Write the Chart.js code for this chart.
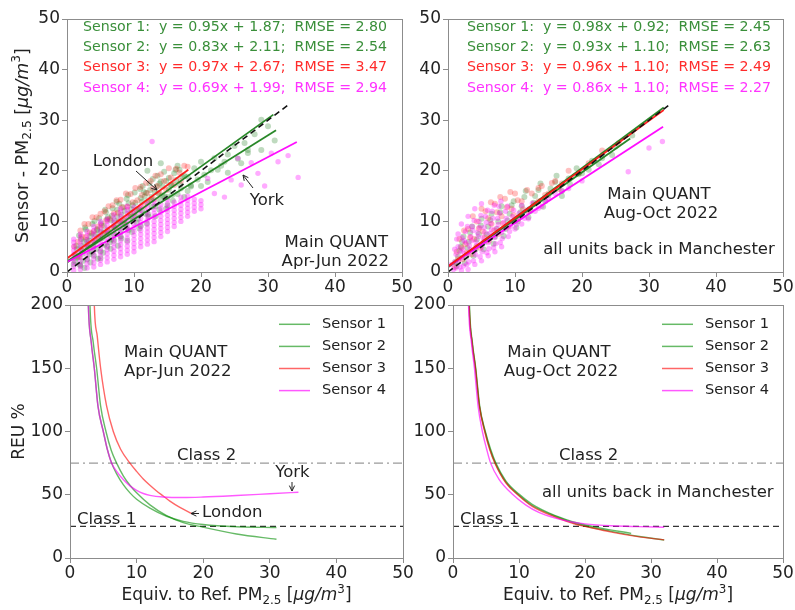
<!DOCTYPE html>
<html><head><meta charset="utf-8">
<script src="https://cdn.jsdelivr.net/npm/chart.js@4.4.1/dist/chart.umd.min.js"></script>
<style>
html,body{margin:0;padding:0;background:#fff;width:795px;height:610px;overflow:hidden}
canvas{position:absolute}
</style></head><body>
<canvas id="tl" width="420" height="300" style="left:0px;top:0px"></canvas>
<canvas id="tr" width="395" height="300" style="left:400px;top:0px"></canvas>
<canvas id="bl" width="420" height="320" style="left:0px;top:290px"></canvas>
<canvas id="br" width="395" height="320" style="left:400px;top:290px"></canvas>
<script>
// ---------------- DATA ----------------
const xTicks = [0, 10, 20, 30, 40, 50];
const yTicksTop = [0, 10, 20, 30, 40, 50];
const yTicksBottom = [0, 50, 100, 150, 200];
const sensorNames = ['Sensor 1', 'Sensor 2', 'Sensor 3', 'Sensor 4'];
const periodAprJun = ['Main QUANT', 'Apr-Jun 2022'];
const periodAugOct = ['Main QUANT', 'Aug-Oct 2022'];
const noteAugOct = 'all units back in Manchester';
const classLabels = ['Class 1', 'Class 2'];
const classLevels = [25, 75];

const eqAprJun = [
  'Sensor 1:  y = 0.95x + 1.87;  RMSE = 2.80',
  'Sensor 2:  y = 0.83x + 2.11;  RMSE = 2.54',
  'Sensor 3:  y = 0.97x + 2.67;  RMSE = 3.47',
  'Sensor 4:  y = 0.69x + 1.99;  RMSE = 2.94'
];
const eqAugOct = [
  'Sensor 1:  y = 0.98x + 0.92;  RMSE = 2.45',
  'Sensor 2:  y = 0.93x + 1.10;  RMSE = 2.63',
  'Sensor 3:  y = 0.96x + 1.10;  RMSE = 2.49',
  'Sensor 4:  y = 0.86x + 1.10;  RMSE = 2.27'
];

// regression line end points: [x0, y0, x1, y1]
const fitAprJun = [[0, 1.87, 30.8, 31.1], [0, 2.11, 31.2, 28.0], [0, 2.67, 18.1, 20.2], [0, 1.99, 34.3, 25.7]];
const fitAugOct = [[0, 0.92, 32.2, 32.5], [0, 1.10, 27.2, 26.4], [0, 1.10, 32.2, 32.0], [0, 1.10, 32.1, 28.7]];
const oneToOne = [0, 0, 33, 33];

// scatter clouds (x, y pairs)
const tlS1 = [1.2,2.1, 1.5,4.5, 1.8,7.2, 2.0,1.2, 2.3,3.6, 2.5,6.0, 2.8,8.4, 3.0,2.5, 3.2,4.8, 3.5,7.1, 3.8,9.5, 4.0,3.2, 4.2,5.9, 4.5,8.3, 4.8,10.6, 5.0,4.1, 5.3,6.7, 5.5,9.1, 5.8,11.8, 6.0,5.0, 6.3,7.5, 6.5,10.2, 6.8,12.6, 7.0,6.2, 7.3,8.7, 7.5,11.0, 7.8,13.5, 8.0,7.0, 8.3,9.6, 8.6,12.1, 8.9,14.5, 9.2,8.3, 9.5,10.9, 9.8,13.2, 10.1,15.7, 10.4,9.8, 10.7,12.4, 11.0,14.6, 11.3,17.0, 11.7,11.5, 12.0,13.8, 12.4,16.2, 12.8,18.4, 13.2,13.0, 13.6,15.5, 14.0,17.9, 14.5,19.8, 15.0,14.8, 15.5,17.2, 16.0,19.5, 16.5,21.0, 17.0,16.5, 18.0,18.8, 19.0,20.5, 20.5,19.2, 22.0,22.5, 23.5,21.8, 25.0,24.9, 26.5,25.5, 28.0,27.2, 30.0,28.8,
  1.5,2.8, 2.2,5.1, 2.6,0.8, 3.3,6.2, 3.7,3.9, 4.3,7.4, 4.6,2.6, 5.1,8.0, 5.6,5.4, 6.1,10.8, 6.6,6.4, 7.1,10.1, 7.6,5.2, 8.1,11.3, 8.7,9.4, 9.0,6.2, 9.6,12.4, 10.2,11.2, 10.8,8.6, 11.2,13.9, 11.8,15.6, 12.2,10.9, 12.6,14.8, 13.4,16.9, 13.8,12.3, 14.2,15.1, 14.8,18.0, 15.2,16.3, 15.8,14.1, 16.3,18.2, 16.8,20.2, 17.5,19.0, 18.5,16.9, 20,21.8, 21.5,20.1, 24,23.2, 27,24.1, 29,30.1, 14.0,21.5, 12.0,20.0];
const tlS2 = [1.0,1.5, 1.4,5.2, 1.7,3.0, 2.1,6.5, 2.4,2.2, 2.7,8.8, 3.1,5.3, 3.4,3.5, 3.7,7.6, 4.1,10.1, 4.4,4.6, 4.7,6.9, 5.1,9.6, 5.4,3.8, 5.7,12.3, 6.1,8.2, 6.4,5.9, 6.7,11.1, 7.1,7.4, 7.4,13.9, 7.7,9.9, 8.1,6.6, 8.4,12.8, 8.8,8.9, 9.1,15.2, 9.4,11.6, 9.7,7.9, 10.2,13.7, 10.6,10.5, 10.9,16.4, 11.2,12.1, 11.6,14.9, 11.9,9.6, 12.3,17.5, 12.7,12.9, 13.1,15.8, 13.5,19.0, 13.9,14.2, 14.3,16.9, 14.8,12.5, 15.2,18.6, 15.7,15.2, 16.2,20.2, 16.8,17.4, 17.5,14.8, 18.5,17.1, 19.5,18.3, 21.0,17.8, 22.5,20.2, 24.0,19.6, 25.5,22.4, 27.0,23.5, 29.0,24.1, 31.0,26.0,
  1.2,3.4, 1.9,1.5, 2.3,4.1, 2.9,6.3, 3.5,1.9, 3.9,5.0, 4.5,8.5, 5.0,2.7, 5.5,7.8, 6.0,10.4, 6.5,4.6, 7.0,9.0, 7.5,12.3, 8.0,8.2, 8.6,10.3, 9.2,13.6, 9.8,10.2, 10.4,12.3, 11.0,9.1, 11.5,15.8, 12.1,11.4, 12.6,14.2, 13.2,11.0, 13.8,17.5, 14.5,15.0, 15.0,13.2, 15.6,17.3, 16.5,15.4, 17.2,18.8, 18.0,16.0, 20.0,17.0, 23.0,21.0, 26.0,21.5];
const tlS3 = [1.3,3.5, 1.6,6.0, 2.0,8.2, 2.4,4.2, 2.8,6.9, 3.2,9.5, 3.6,5.4, 4.0,8.0, 4.4,10.8, 4.8,6.5, 5.2,9.2, 5.6,12.0, 6.0,7.8, 6.4,10.5, 6.8,13.2, 7.2,9.0, 7.6,11.7, 8.0,14.3, 8.5,10.2, 9.0,12.9, 9.5,15.4, 10.0,11.6, 10.5,14.2, 11.0,16.8, 11.5,13.0, 12.0,15.6, 12.5,18.0, 13.0,14.4, 13.5,17.0, 14.0,19.3, 14.8,16.2, 15.5,18.7, 16.3,20.4, 17.0,18.0, 18.0,20.8,
  1.1,5.0, 1.8,3.0, 2.2,7.0, 2.6,9.5, 3.0,5.0, 3.4,7.8, 3.8,10.8, 4.2,6.2, 4.6,9.0, 5.0,11.5, 5.4,7.5, 5.8,10.2, 6.2,13.0, 6.6,8.6, 7.0,11.6, 7.4,14.2, 7.8,10.0, 8.2,12.8, 8.8,15.5, 9.2,11.0, 9.8,13.8, 10.2,16.6, 10.8,12.5, 11.2,15.2, 11.8,17.6, 12.2,14.0, 12.8,16.5, 13.2,19.0, 13.8,15.6, 14.5,18.0, 15.2,20.5, 16.0,17.2, 16.8,19.6, 17.5,21.0];
// sensor 4 (Apr-Jun): vertical stripes, each row = [x, y values...]
const tlS4Stripes = [
  [1, 0.3,1.1,1.9,2.7,3.5,4.3,5.1,5.9,6.5],
  [2, 0.5,1.3,2.1,2.9,3.7,4.5,5.3,6.1,6.9,7.5],
  [3, 0.8,1.6,2.4,3.2,4.0,4.8,5.6,6.4,7.2,8.0],
  [4, 1.0,1.8,2.6,3.4,4.2,5.0,5.8,6.6,7.4,8.2,9.0],
  [5, 1.5,2.3,3.1,3.9,4.7,5.5,6.3,7.1,7.9,8.7,9.5,10.0],
  [6, 2.0,2.8,3.6,4.4,5.2,6.0,6.8,7.6,8.4,9.2,10.0,10.5],
  [7, 2.5,3.3,4.1,4.9,5.7,6.5,7.3,8.1,8.9,9.7,10.5,11.3],
  [8, 3.0,3.8,4.6,5.4,6.2,7.0,7.8,8.6,9.4,10.2,11.0,11.8,12.5],
  [9, 3.5,4.3,5.1,5.9,6.7,7.5,8.3,9.1,9.9,10.7,11.5,12.3,13.0],
  [10, 4.0,4.8,5.6,6.4,7.2,8.0,8.8,9.6,10.4,11.2,12.0,12.8],
  [11, 5.0,5.8,6.6,7.4,8.2,9.0,9.8,10.6,11.4,12.2,13.0],
  [12, 5.5,6.3,7.1,7.9,8.7,9.5,10.3,11.1,11.9,12.7,13.5],
  [13, 6.0,6.8,7.6,8.4,9.2,10.0,10.8,11.6,12.4,13.2,14.0],
  [14, 7.0,7.8,8.6,9.4,10.2,11.0,11.8,12.6,13.4],
  [15, 8.0,8.8,9.6,10.4,11.2,12.0,12.8,13.6,14.4],
  [16, 9.0,9.8,10.6,11.4,12.2,13.0,13.8],
  [17, 10.0,10.8,11.6,12.4,13.2,14.0,14.8],
  [18, 11.0,11.8,12.6,13.4,14.2,15.0],
  [19, 12.0,12.8,13.6,14.4],
  [20, 12.5,13.3,14.1]
];
const tlS4Sparse = [22,15.5, 23.5,14.8, 24.5,18.2, 26,17.2, 27.5,21.6, 28.5,19.5, 30.5,23.5, 31.5,21.8, 33,23, 34.5,18.7, 12.7,25.8, 21,18.5, 25.5,22.5, 29.5,17];

const trS1 = [1.1,2, 1.5,3, 1.9,5, 2.3,7, 2.7,3, 3.1,6, 3.6,9, 4.1,4.5, 4.6,7.5, 5,10.5, 5.5,6, 6,9, 6.5,11.5, 7,7, 7.5,10, 8,13, 8.6,8.5, 9.2,11.5, 9.8,14, 10.4,10, 11,13, 11.6,16, 12.3,12, 13,15, 13.8,17.5, 14.5,14, 15.3,16.5, 16.2,19, 17,16, 18,18.5, 19.2,20.5, 20,19.5, 21.5,22, 23,22.5, 25,24.8, 27.5,27];
const trS2 = [1.3,1.2, 1.7,4.2, 2.1,6, 2.5,1.8, 2.9,4.8, 3.3,7.8, 3.8,3.2, 4.3,6.4, 4.9,9.2, 5.3,4.5, 5.8,7.4, 6.3,10.3, 6.8,5.6, 7.3,8.5, 7.8,11.8, 8.3,7.1, 8.9,10.2, 9.5,13.2, 10.2,8.8, 10.8,11.8, 11.4,14.8, 12,10.8, 12.8,13.7, 13.5,16.2, 14.2,12.9, 15,15.2, 16,17.8, 17,15, 18.2,17.4, 19.5,19.3, 21,20.2, 22.5,21.3, 24.5,23.1];
const trS3 = [1,1, 1.3,4, 1.7,6.5, 2.2,2.5, 2.6,5.5, 3,8.5, 3.5,3.5, 3.9,6.5, 4.3,10, 4.8,4.8, 5.2,8, 5.6,12, 6.1,6.2, 6.5,9.5, 7,13.5, 7.5,7.5, 8,11, 8.5,14.5, 9,9, 9.5,12.5, 10,15.5, 10.5,10.5, 11,14, 12,12, 12.5,15.5, 13.5,14, 14,17, 15,15.5, 16,18, 17,17.5, 18,20, 19.5,19.5, 21,21.5, 23,24, 25.5,25.5,
  1.5,2.5, 2.0,4.8, 2.4,8.2, 2.8,3.8, 3.3,6.8, 3.7,11.0, 4.2,5.0, 4.6,8.6, 5.0,12.5, 5.5,6.8, 6.0,10.6, 6.4,13.8, 6.9,8.2, 7.3,11.8, 7.8,14.8, 8.2,9.6, 8.8,12.8, 9.3,15.8, 9.8,11.2, 10.4,14.2, 11.2,12.4, 11.8,16.2, 12.8,13.4, 13.5,16.6, 14.5,15.2, 15.5,17.6, 16.5,16.4];
const trS4 = [0.8,0.5, 1,2, 1.2,3.5, 1.5,5, 1.8,1, 2,2.8, 2.2,4.5, 2.4,6.2, 2.6,8, 2.8,1.5, 3,3.5, 3.2,5.2, 3.4,7, 3.6,9, 3.8,2.2, 4,4.2, 4.2,6, 4.4,7.8, 4.6,10, 4.8,3, 5,5, 5.2,6.8, 5.4,8.8, 5.6,11, 5.8,3.8, 6,5.8, 6.2,7.6, 6.4,9.6, 6.6,12, 6.8,4.8, 7,6.8, 7.2,8.6, 7.4,10.6, 7.6,13, 7.8,5.8, 8,7.8, 8.3,9.8, 8.6,12, 9,7, 9.3,9, 9.6,11, 10,8.5, 10.5,10.5, 11,9.5, 11.5,12, 12,10.5, 13,12, 14,13, 15,14.5, 16,15.5, 17,16, 18,16.5, 20,18, 26.9,19.8, 30,24.5, 32,25.8, 1.5,7.5, 0.5,1.5, 2,9.5, 3,11, 4,12.5, 5,13.5,
  1.0,4.5, 1.3,6.5, 1.6,2.2, 1.9,4.0, 2.1,6.8, 2.3,1.2, 2.5,3.6, 2.7,5.8, 2.9,9.0, 3.1,2.0, 3.3,4.4, 3.5,6.2, 3.7,8.2, 3.9,10.2, 4.1,3.4, 4.3,5.2, 4.5,7.0, 4.7,8.8, 4.9,11.2, 5.1,4.0, 5.3,6.0, 5.5,7.8, 5.7,9.8, 5.9,12.2, 6.1,4.6, 6.3,6.6, 6.5,8.4, 6.7,10.6, 6.9,13.2, 7.1,5.6, 7.3,7.6, 7.5,9.4, 7.7,11.6, 7.9,14.0, 8.1,6.6, 8.4,8.6, 8.7,10.6, 8.9,13.0, 9.2,8.0, 9.5,10.0, 9.8,12.2, 10.2,9.4, 10.6,11.6, 11.0,13.2, 11.4,10.6, 12.0,12.4, 12.6,13.6, 13.5,12.6, 14.5,14.2, 4.0,1.5, 5.0,2.2, 6.0,3.2, 7.0,4.0, 8.0,5.0, 3.0,0.5, 2.0,0.3, 1.2,0.8];

// REU curves (x, REU%)
const reuAprJun = [
  [2.85,240, 3.0,200, 3.5,170, 4.0,150, 4.6,120, 5.4,100, 6.2,85, 7.0,75, 8,65, 9,57.5, 10,51.5, 12,42, 14.5,33.5, 17,28, 20,24.3, 25,19, 31,14.8],
  [2.6,240, 2.75,200, 3.2,170, 3.65,150, 4.2,120, 5.0,100, 5.6,86, 6.25,75, 7,66.5, 8,58, 9,51.5, 10,46.5, 12,39.5, 14.5,33, 17,29, 20,26.5, 25,24.7, 31,24.1],
  [3.5,240, 3.65,200, 4.1,175, 4.6,150, 5.5,120, 6.5,100, 7.6,86, 9.0,75, 10,68.5, 11,62.5, 12,57.5, 13,53, 14,49, 15,45, 16.5,40, 18.3,35],
  [2.6,240, 2.75,200, 3.2,170, 3.65,150, 4.2,120, 5.0,100, 5.6,86, 6.25,75, 7,68.5, 8,62, 9,57, 10,53.5, 11,51, 12,49.5, 14,48.2, 17,47.8, 20,48.2, 25,49.4, 30,50.8, 34.3,52]
];
const reuAugOct = [
  [2.3,240, 2.45,200, 2.9,170, 3.4,150, 4.0,120, 4.85,100, 5.6,86, 6.4,75, 8,60, 9.9,50, 12,41.5, 15.5,33, 18.7,27, 20,25.3, 24,21, 28,17.2, 32,14.2],
  [2.35,240, 2.5,200, 2.95,170, 3.45,150, 4.05,120, 4.9,100, 5.7,86, 6.5,75, 8,61, 10,50.5, 12,42.5, 15.5,33.5, 19,27.5, 22,24, 27,19.5],
  [2.3,240, 2.45,200, 2.9,170, 3.4,150, 4.0,120, 4.8,100, 5.55,86, 6.35,75, 8,59.5, 9.8,50, 12,40.8, 15.5,32.3, 18.7,26.5, 20,25, 24,20.5, 28,16.9, 32,14.3],
  [2.2,240, 2.35,200, 2.8,170, 3.25,150, 3.8,120, 4.45,100, 5.1,86, 5.7,75, 7,62, 9.1,50, 11,42, 13,36, 15.5,31.5, 18,28.5, 20,27, 24,25.5, 28,24.8, 32,24.3]
];

// ---------------- STYLE ----------------
const FONT = '"DejaVu Sans", sans-serif';
const TXT = '#222';
const AXIS = '#8c8c8c';
const lineCol = ['rgba(30,130,30,0.95)', 'rgba(30,130,30,0.95)', 'rgba(255,20,20,0.95)', 'rgba(255,0,255,0.95)'];
const lineOrder = [2, 3, 0, 1];
const curveCol = ['rgba(0,140,0,0.6)', 'rgba(0,140,0,0.6)', 'rgba(255,0,0,0.6)', 'rgba(255,0,255,0.65)'];
const dotCol = ['rgba(20,120,20,0.27)', 'rgba(20,120,20,0.27)', 'rgba(255,30,30,0.28)', 'rgba(255,0,255,0.33)'];
const dotR = [3, 3, 3, 2.7];
const eqCol = ['#3a8f3a', '#3a8f3a', '#ff2b2b', '#ff33ff'];

const pairs = a => { const o = []; for (let i = 0; i < a.length; i += 2) o.push({x: a[i], y: a[i + 1]}); return o; };
const stripes = rows => { const o = []; rows.forEach(r => r.slice(1).forEach(y => o.push({x: r[0], y}))); return o; };
const seg = s => [{x: s[0], y: s[1]}, {x: s[2], y: s[3]}];

const pmSegs = [{t: 'PM'}, {t: '2.5', sub: 1}, {t: ' ['}, {t: 'μg/m', it: 1}, {t: '3', sup: 1}, {t: ']'}];
const yTitleTop = [{t: 'Sensor - '}].concat(pmSegs);
const xTitle = [{t: 'Equiv. to Ref. '}].concat(pmSegs);

function drawRich(ctx, segs, x, y, size, align, color) {
  let total = 0;
  const parts = segs.map(s => {
    const fs = (s.sub || s.sup) ? size * 0.7 : size;
    const font = (s.it ? 'italic ' : '') + fs + 'px ' + FONT;
    ctx.font = font;
    const w = ctx.measureText(s.t).width;
    total += w;
    return {s, font, w, dy: s.sub ? size * 0.3 : s.sup ? -size * 0.38 : 0};
  });
  let cx = align === 'center' ? x - total / 2 : align === 'right' ? x - total : x;
  ctx.textBaseline = 'middle';
  ctx.textAlign = 'left';
  ctx.fillStyle = color || TXT;
  parts.forEach(p => { ctx.font = p.font; ctx.fillText(p.s.t, cx, y + p.dy); cx += p.w; });
}

function arrow(ctx, x1, y1, x2, y2) {
  const a = Math.atan2(y2 - y1, x2 - x1), h = 6;
  ctx.strokeStyle = TXT; ctx.lineWidth = 1; ctx.setLineDash([]);
  ctx.beginPath(); ctx.moveTo(x1, y1); ctx.lineTo(x2, y2);
  ctx.moveTo(x2 - h * Math.cos(a - 0.45), y2 - h * Math.sin(a - 0.45));
  ctx.lineTo(x2, y2);
  ctx.lineTo(x2 - h * Math.cos(a + 0.45), y2 - h * Math.sin(a + 0.45));
  ctx.stroke();
}

const deco = {
  id: 'deco',
  afterDatasetsDraw(chart, args, o) {
    const ctx = chart.ctx, A = chart.chartArea;
    ctx.save();
    ctx.strokeStyle = AXIS; ctx.lineWidth = 1;
    ctx.strokeRect(Math.round(A.left) + 0.5, Math.round(A.top) + 0.5, Math.round(A.right - A.left), Math.round(A.bottom - A.top));
    (o.texts || []).forEach(t => {
      ctx.font = t.size + 'px ' + FONT;
      ctx.fillStyle = t.color || TXT;
      ctx.textAlign = t.align || 'left';
      ctx.textBaseline = 'middle';
      ctx.fillText(t.t, A.left + t.dx, A.top + t.dy);
    });
    (o.arrows || []).forEach(r => arrow(ctx, A.left + r[0], A.top + r[1], A.left + r[2], A.top + r[3]));
    if (o.legend) {
      const L = o.legend;
      chart.data.datasets.filter(d => d.legend).forEach((d, i) => {
        const y = A.top + L.dy0 + i * L.step;
        ctx.strokeStyle = d.borderColor; ctx.lineWidth = 1.5; ctx.setLineDash([]);
        ctx.beginPath(); ctx.moveTo(A.left + L.dx1, y); ctx.lineTo(A.left + L.dx2, y); ctx.stroke();
        ctx.font = L.size + 'px ' + FONT; ctx.fillStyle = TXT; ctx.textAlign = 'left'; ctx.textBaseline = 'middle';
        ctx.fillText(d.label, A.left + L.tx, y);
      });
    }
    if (o.yTitle) {
      ctx.save(); ctx.translate(o.yTitle.x, (A.top + A.bottom) / 2); ctx.rotate(-Math.PI / 2);
      drawRich(ctx, o.yTitle.segs, 0, 0, o.yTitle.size, 'center');
      ctx.restore();
    }
    if (o.xTitle) drawRich(ctx, o.xTitle.segs, (A.left + A.right) / 2, o.xTitle.y, o.xTitle.size, 'center');
    ctx.restore();
  }
};

function panel(id, o) {
  const tickFont = {family: FONT, size: 17};
  return new Chart(document.getElementById(id), {
    type: 'scatter',
    data: {datasets: o.datasets},
    options: {
      responsive: false, animation: false, devicePixelRatio: 1,
      layout: {padding: {top: o.padTop, right: o.padRight, left: 0, bottom: 0}},
      plugins: {legend: {display: false}, tooltip: {enabled: false}, deco: o.deco},
      scales: {
        x: {type: 'linear', min: 0, max: 50,
          afterBuildTicks: s => { s.ticks = xTicks.map(v => ({value: v})); },
          afterFit: s => { s.height = o.xH; },
          grid: {display: true, drawOnChartArea: false, drawTicks: true, tickLength: 5, color: AXIS},
          border: {display: true, color: AXIS},
          ticks: {font: tickFont, color: TXT, padding: 0, maxRotation: 0, autoSkip: false}},
        y: {type: 'linear', min: 0, max: o.yMax,
          afterBuildTicks: s => { s.ticks = o.yTicks.map(v => ({value: v})); },
          afterFit: s => { s.width = o.yW; },
          grid: {display: true, drawOnChartArea: false, drawTicks: true, tickLength: 5, color: AXIS},
          border: {display: true, color: AXIS},
          ticks: {font: tickFont, color: TXT, padding: 2, autoSkip: false}}
      }
    },
    plugins: [deco]
  });
}

function topSets(clouds, fits) {
  const ds = [];
  ds.push({label: '1:1', data: seg(oneToOne), showLine: true, borderColor: '#111', borderWidth: 1.6, borderDash: [6, 4], pointRadius: 0, order: -1});
  fits.forEach((f, i) => ds.push({label: sensorNames[i] + ' fit', data: seg(f), showLine: true, borderColor: lineCol[i], borderWidth: 1.8, pointRadius: 0, order: lineOrder[i]}));
  clouds.forEach((c, i) => ds.push({label: sensorNames[i], data: c, showLine: false, pointRadius: dotR[i], pointBorderWidth: 0, backgroundColor: dotCol[i], borderColor: dotCol[i], order: 20 - i}));
  return ds;
}
function bottomSets(curves) {
  const ds = [];
  curves.forEach((c, i) => ds.push({label: sensorNames[i], legend: true, data: pairs(c), showLine: true, borderColor: curveCol[i], borderWidth: 1.4, pointRadius: 0, cubicInterpolationMode: 'monotone', order: 4 - i}));
  ds.push({label: classLabels[0], data: [{x: 0, y: classLevels[0]}, {x: 50, y: classLevels[0]}], showLine: true, borderColor: '#333', borderWidth: 1.4, borderDash: [6, 4], pointRadius: 0, order: 10});
  ds.push({label: classLabels[1], data: [{x: 0, y: classLevels[1]}, {x: 50, y: classLevels[1]}], showLine: true, borderColor: '#9a9a9a', borderWidth: 1.4, borderDash: [9, 4, 2, 4], pointRadius: 0, order: 11});
  return ds;
}

const eqTexts = (arr, dx) => arr.map((t, i) => ({t, dx, dy: 8 + i * 20.3, size: 14.2, color: eqCol[i]}));

panel('tl', {
  padTop: 19, padRight: 18, yW: 67, xH: 28, yMax: 50, yTicks: yTicksTop,
  datasets: topSets([pairs(tlS1), pairs(tlS2), pairs(tlS3), stripes(tlS4Stripes).concat(pairs(tlS4Sparse))], fitAprJun),
  deco: {
    texts: eqTexts(eqAprJun, 16).concat([
      {t: periodAprJun[0], dx: 321, dy: 224, size: 16.5, align: 'right'},
      {t: periodAprJun[1], dx: 322, dy: 243, size: 16.5, align: 'right'},
      {t: 'London', dx: 56, dy: 143, size: 16.5, align: 'center'},
      {t: 'York', dx: 200, dy: 182, size: 16.5, align: 'center'}
    ]),
    arrows: [[69, 152, 90, 171], [186, 169, 176, 156]],
    yTitle: {segs: yTitleTop, x: 23, size: 17.5}
  }
});

panel('tr', {
  padTop: 19, padRight: 12, yW: 48, xH: 28, yMax: 50, yTicks: yTicksTop,
  datasets: topSets([pairs(trS1), pairs(trS2), pairs(trS3), pairs(trS4)], fitAugOct),
  deco: {
    texts: eqTexts(eqAugOct, 19).concat([
      {t: periodAugOct[0], dx: 211, dy: 176, size: 16.5, align: 'center'},
      {t: periodAugOct[1], dx: 213, dy: 195, size: 16.5, align: 'center'},
      {t: noteAugOct, dx: 211, dy: 231, size: 16.5, align: 'center'}
    ])
  }
});

panel('bl', {
  padTop: 15, padRight: 17, yW: 70, xH: 52, yMax: 200, yTicks: yTicksBottom,
  datasets: bottomSets(reuAprJun),
  deco: {
    texts: [
      {t: periodAprJun[0], dx: 54, dy: 48, size: 16.5},
      {t: periodAprJun[1], dx: 54, dy: 67, size: 16.5},
      {t: classLabels[1], dx: 107, dy: 151, size: 16.5},
      {t: classLabels[0], dx: 7, dy: 214.5, size: 16.5},
      {t: 'York', dx: 222.5, dy: 168, size: 16.5, align: 'center'},
      {t: 'London', dx: 132, dy: 208, size: 16.5}
    ],
    arrows: [[222, 177, 222, 186], [129, 208.5, 121, 208.5]],
    legend: {dx1: 209, dx2: 240, tx: 252, dy0: 19.3, step: 22.1, size: 14.6},
    yTitle: {segs: [{t: 'REU %'}], x: 20, size: 17},
    xTitle: {segs: xTitle, y: 306, size: 17}
  }
});

panel('br', {
  padTop: 15, padRight: 12, yW: 53, xH: 52, yMax: 200, yTicks: yTicksBottom,
  datasets: bottomSets(reuAugOct),
  deco: {
    texts: [
      {t: periodAugOct[0], dx: 106, dy: 48, size: 16.5, align: 'center'},
      {t: periodAugOct[1], dx: 108, dy: 67, size: 16.5, align: 'center'},
      {t: classLabels[1], dx: 106, dy: 151, size: 16.5},
      {t: classLabels[0], dx: 7, dy: 214.5, size: 16.5},
      {t: noteAugOct, dx: 89, dy: 188, size: 16.5}
    ],
    legend: {dx1: 209, dx2: 240, tx: 252, dy0: 19.3, step: 22.1, size: 14.6},
    xTitle: {segs: xTitle, y: 306, size: 17}
  }
});
</script>
</body></html>
